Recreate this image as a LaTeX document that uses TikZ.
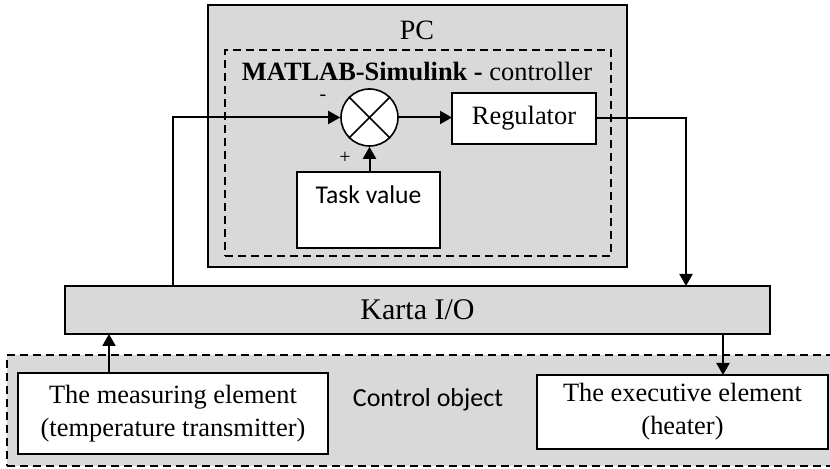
\documentclass[tikz,border=0pt]{standalone}
\usepackage{fontspec}
\setmainfont{Liberation Serif}
\newfontfamily\calibri{Carlito}
\usetikzlibrary{arrows.meta}
\definecolor{boxgray}{HTML}{D9D9D9}

\begin{document}
\begin{tikzpicture}[x=0.5pt,y=-0.5pt,
    box/.style={draw,line width=0.8pt,inner sep=0pt,outer sep=0pt},
    graybox/.style={box,fill=boxgray},
    whitebox/.style={box,fill=white},
    dashbox/.style={draw,line width=0.8pt,dash pattern=on 4pt off 2.5pt,inner sep=0pt,outer sep=0pt},
    conn/.style={line width=1pt,-{Triangle[length=6pt,width=6.5pt]}},
    font=\fontsize{13.2}{16.5}\selectfont]
                    \useasboundingbox (0,0) rectangle (830,469);
                    
                    % Drawing block Control object
                    \node [dashbox,fill=boxgray,minimum width=413pt,minimum height=55.5pt] (plant) at (420.000000,410.500000) {};%
                    \node [font=\calibri\fontsize{13}{15.6}\selectfont] (plantlbl) at (428.000000,400.000000) {Control object};%
                    
                    % Drawing block Karta I/O
                    \node [graybox,minimum width=352.5pt,minimum height=24pt,font=\fontsize{15}{18}\selectfont] (karta) at (417.500000,310.000000) {Karta I/O};%
                    
                    % Drawing block PC
                    \node [graybox,minimum width=209.5pt,minimum height=131pt] (pc) at (417.500000,136.000000) {};%
                    \node [font=\fontsize{14}{16.8}\selectfont] (pclbl) at (417.000000,30.000000) {PC};%
                    
                    % Drawing block MATLAB-Simulink
                    \node [dashbox,minimum width=193pt,minimum height=103pt] (sim) at (418.000000,153.000000) {};%
                    \node (simlbl) at (417.000000,72.000000) {\textbf{MATLAB-Simulink -} controller};%
                    
                    % Drawing summing point
                    \node [circle,draw,fill=white,line width=0.8pt,minimum size=28.5pt,inner sep=0pt] (sum) at (369.500000,117.500000) {};%
                    \draw [line width=0.8pt] (sum.north west) -- (sum.south east) (sum.north east) -- (sum.south west);%
                    \node [font=\fontsize{10}{12}\selectfont] (minus) at (323.000000,98.000000) {-};%
                    \node [font=\fontsize{10}{12}\selectfont] (plus) at (345.000000,158.000000) {+};%
                    
                    % Drawing block Regulator
                    \node [whitebox,minimum width=72pt,minimum height=25.5pt] (reg) at (524.000000,118.500000) {Regulator};%
                    
                    % Drawing block Task value
                    \node [whitebox,minimum width=71.5pt,minimum height=38pt,align=center,font=\calibri\fontsize{12.8}{15.4}\selectfont] (task) at (368.500000,210.000000) {Task value\\~};%
                    
                    % Drawing measuring and executive elements
                    \node [whitebox,minimum width=155pt,minimum height=40.5pt,align=center] (meas) at (173.000000,413.500000) {The measuring element\\(temperature transmitter)};%
                    \node [whitebox,minimum width=145.5pt,minimum height=37pt,align=center] (exec) at (682.500000,412.000000) {The executive element\\(heater)};%
                    
                    % Marking connector columns
                    \coordinate (fbx) at (173.000000,0.000000);%
                    \coordinate (outx) at (686.000000,0.000000);%
                    \coordinate (inx) at (109.000000,0.000000);%
                    \coordinate (actx) at (723.000000,0.000000);%
                    
                    % Drawing connectors
                    \draw [conn] (karta.north -| fbx) |- (sum.west);%
                    \draw [conn] (sum.east) -- (sum.east -| reg.west);%
                    \draw [conn] (sum.south |- task.north) -- (sum.south);%
                    \draw [conn] (reg.east) -| (karta.north -| outx);%
                    \draw [conn] (meas.north -| inx) -- (karta.south -| inx);%
                    \draw [conn] (karta.south -| actx) -- (exec.north -| actx);%
\end{tikzpicture}
\end{document}
